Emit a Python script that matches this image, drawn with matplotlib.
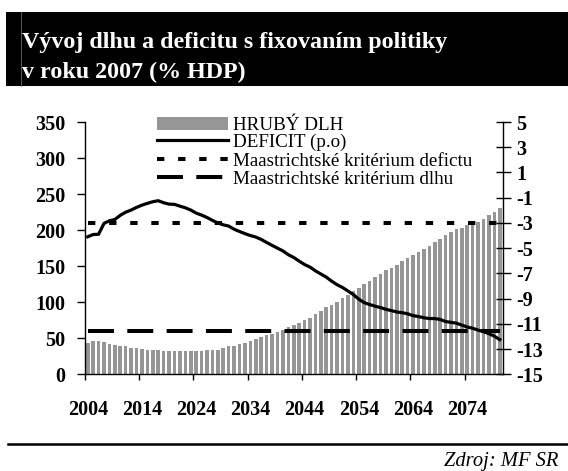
import matplotlib
matplotlib.use("Agg")
import matplotlib.pyplot as plt
from matplotlib.patches import Rectangle
from matplotlib.lines import Line2D
import numpy as np

plt.rcParams['font.family'] = ['Liberation Serif', 'DejaVu Serif']

# ---------------- data ----------------
years = list(range(2004, 2081))
debt = [43.5, 46.2, 46.2, 45.0, 42.5, 40.0, 39.3, 39.3, 37.0, 36.5,
        34.5, 33.8, 33.8, 33.8, 32.4, 32.4, 32.4, 32.4, 32.4, 32.4,
        32.4, 32.4, 33.8, 33.8, 33.8, 36.0, 39.3, 39.3, 42.0, 44.0,
        46.7, 49.5, 52.2, 54.6, 56.4, 59.2, 61.5, 65.5, 68.4, 70.7,
        75.4, 78.0, 83.7, 87.9, 93.9, 96.2, 100.8, 105.9, 110.0, 115.6,
        119.5, 125.0, 129.5, 134.6, 138.7, 144.7, 147.2, 151.7, 157.5, 161.0,
        165.0, 169.0, 174.0, 178.5, 183.0, 188.2, 193.3, 197.0, 201.6, 202.5,
        207.2, 209.9, 211.8, 215.5, 221.0, 225.6, 231.2]
deficit = [-4.10, -3.92, -3.90, -3.04, -2.83, -2.73, -2.40, -2.15, -1.98, -1.77,
           -1.59, -1.45, -1.32, -1.24, -1.40, -1.51, -1.53, -1.67, -1.80, -1.98,
           -2.22, -2.38, -2.57, -2.80, -3.00, -3.15, -3.25, -3.50, -3.68, -3.85,
           -4.00, -4.12, -4.31, -4.55, -4.78, -5.00, -5.22, -5.52, -5.74, -6.03,
           -6.30, -6.50, -6.80, -7.05, -7.30, -7.62, -7.90, -8.12, -8.40, -8.68,
           -9.05, -9.32, -9.47, -9.60, -9.71, -9.85, -9.95, -10.06, -10.12, -10.20,
           -10.35, -10.42, -10.52, -10.58, -10.58, -10.65, -10.82, -10.88, -10.95, -11.10,
           -11.25, -11.35, -11.50, -11.62, -11.78, -11.98, -12.25]
deficit_criterion = -3.0
debt_criterion = 60.0

left_ticks = [0, 50, 100, 150, 200, 250, 300, 350]
right_ticks = [-15, -13, -11, -9, -7, -5, -3, -1, 1, 3, 5]
xlabel_years = [2004, 2014, 2024, 2034, 2044, 2054, 2064, 2074]

title_lines = ["Vývoj dlhu a deficitu s fixovaním politiky", "v roku 2007 (% HDP)"]
legend_labels = ["HRUBÝ DLH", "DEFICIT (p.o)",
                 "Maastrichtské kritérium defictu", "Maastrichtské kritérium dlhu"]
source = "Zdroj: MF SR"

BAR = '#969696'
W, H = 568, 471

fig = plt.figure(figsize=(W / 100, H / 100), dpi=100)

def fx(px):
    return px / W

def fy(py):
    return 1 - py / H

# title banner
fig.add_artist(Rectangle((fx(6), fy(86)), fx(568) - fx(6), fy(12) - fy(86),
                         transform=fig.transFigure, facecolor='black', edgecolor='none'))
fig.add_artist(Line2D([fx(20.7), fx(20.7)], [fy(86), fy(12)], transform=fig.transFigure,
                      color='#666666', lw=0.6))
fig.text(fx(21.5), fy(48), title_lines[0], color='white', fontsize=17.3,
         fontweight='bold', va='baseline', ha='left')
fig.text(fx(21.5), fy(78), title_lines[1], color='white', fontsize=17.3,
         fontweight='bold', va='baseline', ha='left')

# axes
x0, x1, ytop, ybot = 85, 502.5, 122, 374.3
ax = fig.add_axes([fx(x0), fy(ybot), fx(x1) - fx(x0), (ybot - ytop) / H])
ax2 = ax.twinx()

ax.bar(years, debt, width=0.66, color=BAR, zorder=2)
ax.plot(years, [debt_criterion] * len(years), color='black', lw=2.9,
        linestyle=(0, (18.7 / 2.9, 9.6 / 2.9)), zorder=3, dash_capstyle='butt')
ax2.plot(years, [deficit_criterion] * len(years), color='black', lw=2.9,
         linestyle=(0, (5.3 / 2.9, 9.9 / 2.9)), dash_capstyle='butt')
ax2.plot(years, deficit, color='black', lw=2.3, solid_joinstyle='round')

ax.set_xlim(2003.5, 2080.5)
ax.set_ylim(0, 350)
ax2.set_ylim(-15, 5)

ax.set_yticks(left_ticks)
ax2.set_yticks(right_ticks)
ax2.set_yticklabels([str(t) for t in right_ticks])
ax.set_xticks([y - 0.5 for y in xlabel_years])
ax.set_xticklabels([])
ax.set_xticks(xlabel_years, minor=True)
ax.set_xticklabels([str(y) for y in xlabel_years], minor=True)

for a in (ax, ax2):
    for s in a.spines.values():
        s.set_linewidth(1.0)
    a.spines['top'].set_visible(False)
ax.spines['right'].set_visible(False)
ax2.spines['left'].set_visible(False)
ax2.spines['bottom'].set_visible(False)

ax.tick_params(axis='y', direction='out', length=5.8, width=1.0, pad=8.5, labelsize=14.5)
ax.tick_params(axis='x', which='major', direction='out', length=4.5, width=1.0)
ax.tick_params(axis='x', which='minor', length=0, pad=18.5, labelsize=14.5)
ax2.tick_params(axis='y', direction='inout', length=10.8, width=1.0, pad=4.5, labelsize=14.5)

for lab in ax.get_yticklabels() + ax2.get_yticklabels() + ax.get_xticklabels(minor=True):
    lab.set_fontweight('bold')

# legend (manual)
hx0, hx1, tx = 157, 228, 233
fig.add_artist(Rectangle((fx(hx0), fy(129.5)), fx(hx1) - fx(hx0), (129.5 - 117) / H,
                         transform=fig.transFigure, facecolor=BAR, edgecolor='none'))
fig.add_artist(Line2D([fx(hx0), fx(hx1)], [fy(139.5)] * 2, transform=fig.transFigure,
                      color='black', lw=2.3))
fig.add_artist(Line2D([fx(hx0), fx(hx1)], [fy(159)] * 2, transform=fig.transFigure,
                      color='black', lw=2.9, linestyle=(0, (5.3 / 2.9, 9.9 / 2.9)),
                      dash_capstyle='butt'))
fig.add_artist(Line2D([fx(hx0), fx(hx1)], [fy(177)] * 2, transform=fig.transFigure,
                      color='black', lw=2.9, linestyle=(0, (18.7 / 2.9, 9.6 / 2.9)),
                      dash_capstyle='butt'))
for lab, base in zip(legend_labels, [130, 147, 166, 184]):
    fig.text(fx(tx), fy(base), lab, fontsize=13.7, va='baseline', ha='left', color='black')

# bottom rule and source
fig.add_artist(Line2D([fx(8), fx(568)], [fy(444)] * 2, transform=fig.transFigure,
                      color='black', lw=1.8))
fig.text(fx(558), fy(466), source, fontsize=14.8, style='italic', ha='right',
         va='baseline', color='black')

fig.savefig('out.png', dpi=100)
